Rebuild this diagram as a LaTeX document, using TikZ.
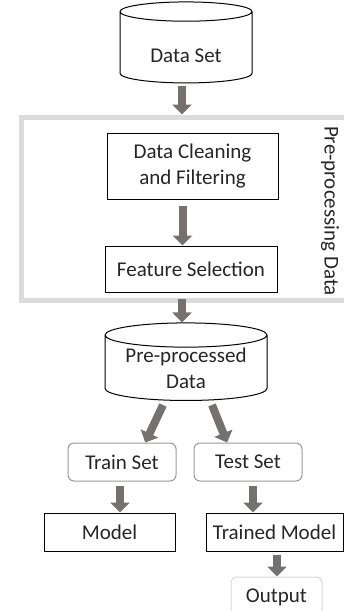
\documentclass[tikz,border=0pt]{standalone}
\usepackage{fontspec}
\setmainfont{Carlito}
\usetikzlibrary{shapes.geometric,arrows.meta}
\definecolor{arrgray}{HTML}{767171}
\definecolor{txtgray}{HTML}{262626}
\tikzset{
  base/.style={font=\fontsize{21}{26}\selectfont, text=txtgray, align=center, inner sep=0pt},
  box/.style={base, draw, line width=1pt, fill=white},
  soft/.style={base, draw=gray!80, line width=1pt, rounded corners=6pt},
  db/.style={base, draw, line width=1pt, fill=white, cylinder, shape border rotate=90},
  arr/.style={draw=arrgray, line width=8pt, -{Triangle[width=19pt,length=10pt]}},
}
\begin{document}
\begin{tikzpicture}[x=1pt,y=-1pt]
\useasboundingbox (0,0) rectangle (344,611);
% group
\node[draw=gray!28, line width=5pt, minimum width=345pt, minimum height=183pt, inner sep=0pt] (pre) at (193.5,208.5) {};
\node[base, rotate=-90] (prelbl) at (330,211) {Pre-processing Data};
% nodes
\node[db, aspect=0.27, minimum width=132pt, minimum height=81pt, text height=30pt, text depth=0pt] (ds) at (186,47.5) {Data Set};
\node[box, minimum width=171pt, minimum height=66pt] (dc) at (192.5,166) {Data Cleaning\\and Filtering};
\node[box, minimum width=172pt, minimum height=46pt] (fs) at (191,269) {Feature Selection};
\node[db, aspect=0.2, minimum width=162pt, minimum height=76pt] (pd) at (186,368) {Pre-processed\\Data};
\node[soft, minimum width=108pt, minimum height=38pt] (train) at (122,462) {Train Set};
\node[soft, minimum width=108pt, minimum height=38pt] (test) at (248,462) {Test Set};
\node[box, minimum width=131pt, minimum height=38pt] (model) at (109.5,532) {Model};
\node[box, minimum width=137pt, minimum height=38pt] (tm) at (274.5,532) {Trained Model};
\node[soft, draw=gray!30, minimum width=91pt, minimum height=40pt] (out) at (276.5,597) {Output};
% arrows
\draw[arr] ([xshift=-4pt,yshift=-3pt]ds.south) -- ([xshift=-4pt]ds.south |- pre.north);
\draw[arr] ([xshift=-10pt,yshift=-6pt]dc.south) -- ([xshift=-10pt]dc.south |- fs.north);
\draw[arr] ([xshift=-9pt,yshift=-6pt]fs.south) -- ([xshift=-4pt]pd.north);
\draw[arr] ([xshift=-23pt,yshift=-4pt]pd.south) -- (train.40);
\draw[arr] ([xshift=26pt,yshift=-4pt]pd.south) -- (test.137);
\draw[arr] ([xshift=-2pt,yshift=-4pt]train.south) -- ([xshift=-2pt]train.south |- model.north);
\draw[arr] ([xshift=5pt,yshift=-4pt]test.south) -- ([xshift=5pt]test.south |- tm.north);
\draw[arr] ([xshift=2.5pt,yshift=-3pt]tm.south) -- ([xshift=2.5pt]tm.south |- out.north);
\end{tikzpicture}
\end{document}
